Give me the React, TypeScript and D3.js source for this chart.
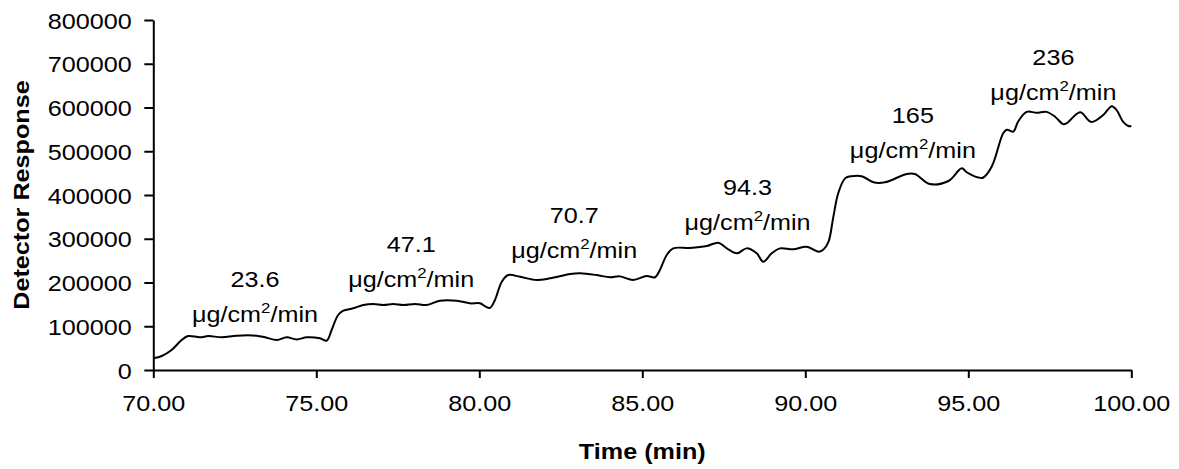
import React, { useEffect, useRef } from 'react';
import * as d3 from 'd3';

// detector trace
const timeMin = [
  70.0, 70.26, 70.56, 70.87, 71.07, 71.43, 71.69, 72.1, 72.56, 73.17, 73.43, 73.79, 74.09, 74.4, 74.71,
  75.11, 75.32, 75.47, 75.67, 75.83, 76.13, 76.44, 76.75, 77.06, 77.36, 77.67, 78.03, 78.39, 78.79,
  79.31, 79.71, 80.02, 80.17, 80.33, 80.48, 80.69, 80.89, 81.25, 81.76, 82.17, 82.79, 83.09, 83.6,
  84.01, 84.31, 84.72, 85.13, 85.39, 85.54, 85.75, 85.95, 86.46, 86.98, 87.33, 87.59, 87.9, 88.2,
  88.51, 88.71, 88.97, 89.22, 89.63, 90.04, 90.4, 90.55, 90.71, 90.86, 91.01, 91.22, 91.42, 91.73,
  92.09, 92.44, 93.11, 93.36, 93.82, 94.39, 94.8, 94.95, 95.31, 95.46, 95.72, 96.07, 96.18, 96.38,
  96.53, 96.79, 97.1, 97.4, 97.66, 97.91, 98.02, 98.43, 98.77, 99.14, 99.4, 99.55, 99.75, 99.91, 100.0,
];
const response = [
  26700, 32000, 45700, 68600, 77700, 74700, 77700, 74700, 78400, 78400, 74700, 68600, 74700, 70000, 74700,
  72400, 67000, 91400, 125700, 135500, 141000, 148600, 150900, 148600, 150900, 148600, 150900, 148600, 158400,
  158400, 152400, 152400, 146000, 142000, 160000, 201800, 217000, 213000, 205700, 209500, 219400, 221000, 217000,
  211900, 214000, 205700, 214800, 212000, 228600, 262900, 278000, 279000, 283400, 291000, 278000, 266700, 278000,
  266700, 247600, 266700, 278000, 275800, 281800, 270400, 275000, 293000, 350000, 404000, 438000, 443000, 443000,
  429000, 429000, 448000, 448000, 425000, 432000, 461000, 452000, 440000, 440000, 465000, 541000, 549000, 545000,
  568000, 590000, 588000, 590000, 579000, 562000, 564000, 589000, 567000, 583000, 603000, 594000, 567000, 557700, 557700,
];

// flux annotations
const rateLabels = ['23.6', '47.1', '70.7', '94.3', '165', '236'];
const labelTime = [73.12, 77.91, 82.91, 88.23, 93.3, 97.61];
const labelResponse = [190000, 270000, 337000, 400000, 565000, 697000];

const xTicks = [70, 75, 80, 85, 90, 95, 100];
const yTicks = [0, 100000, 200000, 300000, 400000, 500000, 600000, 700000, 800000];

const W = 1179;
const H = 469;
const FONT = "'Liberation Sans', Arial, sans-serif";
const FS = '22.5px';
const SX = 1.12; // text in the original is a bit wide

const App = () => {
  const ref = useRef(null);

  useEffect(() => {
    const svg = d3.select(ref.current);
    svg.selectAll('*').remove();

    const x = d3.scaleLinear().domain([70, 100]).range([153.3, 1131.3]);
    const y = d3.scaleLinear().domain([0, 800000]).range([370, 20]);

    // y axis
    const yAxis = svg
      .append('g')
      .attr('transform', `translate(${x(70)},0)`)
      .call(d3.axisLeft(y).tickValues(yTicks).tickFormat(d3.format('d')).tickSize(9).tickSizeOuter(0));
    yAxis.select('.domain').attr('stroke', '#000').attr('stroke-width', 2);
    yAxis.selectAll('.tick line').attr('stroke', '#000').attr('stroke-width', 2);
    yAxis
      .selectAll('.tick text')
      .attr('x', -21.5 / SX)
      .attr('dy', '0.36em')
      .attr('transform', `scale(${SX},1)`)
      .attr('fill', '#000')
      .style('font-family', FONT)
      .style('font-size', FS);

    // x axis
    const xAxis = svg
      .append('g')
      .attr('transform', `translate(0,${y(0)})`)
      .call(d3.axisBottom(x).tickValues(xTicks).tickFormat(d3.format('.2f')).tickSize(8).tickSizeOuter(0));
    xAxis.select('.domain').attr('stroke', '#000').attr('stroke-width', 2);
    xAxis.selectAll('.tick line').attr('stroke', '#000').attr('stroke-width', 2);
    xAxis
      .selectAll('.tick text')
      .attr('y', 25)
      .attr('dy', '0.71em')
      .attr('transform', `scale(${SX},1)`)
      .attr('fill', '#000')
      .style('font-family', FONT)
      .style('font-size', FS);

    // trace
    const line = d3
      .line()
      .x((d) => x(d[0]))
      .y((d) => y(d[1]))
      .curve(d3.curveCatmullRom.alpha(0.5));
    svg
      .append('path')
      .datum(timeMin.map((t, i) => [t, response[i]]))
      .attr('d', line)
      .attr('fill', 'none')
      .attr('stroke', '#000')
      .attr('stroke-width', 2);

    // annotations
    const ann = svg
      .selectAll('.ann')
      .data(rateLabels)
      .enter()
      .append('g')
      .attr('class', 'ann')
      .attr('transform', (d, i) => `translate(${x(labelTime[i])},${y(labelResponse[i])}) scale(${SX},1)`)
      .style('font-family', FONT)
      .style('font-size', FS)
      .attr('text-anchor', 'middle');
    ann.append('text').attr('y', 0).text((d) => d);
    const unit = ann.append('text').attr('y', 35);
    unit.append('tspan').text('\u03bcg/cm');
    unit.append('tspan').attr('dy', -9).style('font-size', '15px').text('2');
    unit.append('tspan').attr('dy', 9).text('/min');

    // axis titles
    svg
      .append('text')
      .attr('transform', `translate(${(x(70) + x(100)) / 2},459) scale(${SX},1)`)
      .attr('text-anchor', 'middle')
      .style('font-family', FONT)
      .style('font-size', FS)
      .style('font-weight', 'bold')
      .text('Time (min)');
    svg
      .append('text')
      .attr('transform', `translate(29,${(y(0) + y(800000)) / 2}) rotate(-90) scale(${SX},1)`)
      .attr('text-anchor', 'middle')
      .style('font-family', FONT)
      .style('font-size', FS)
      .style('font-weight', 'bold')
      .text('Detector Response');
  }, []);

  return (
    <svg
      ref={ref}
      width={W}
      height={H}
      style={{ position: 'absolute', left: 0, top: 0, background: '#fff' }}
    />
  );
};

export default App;
